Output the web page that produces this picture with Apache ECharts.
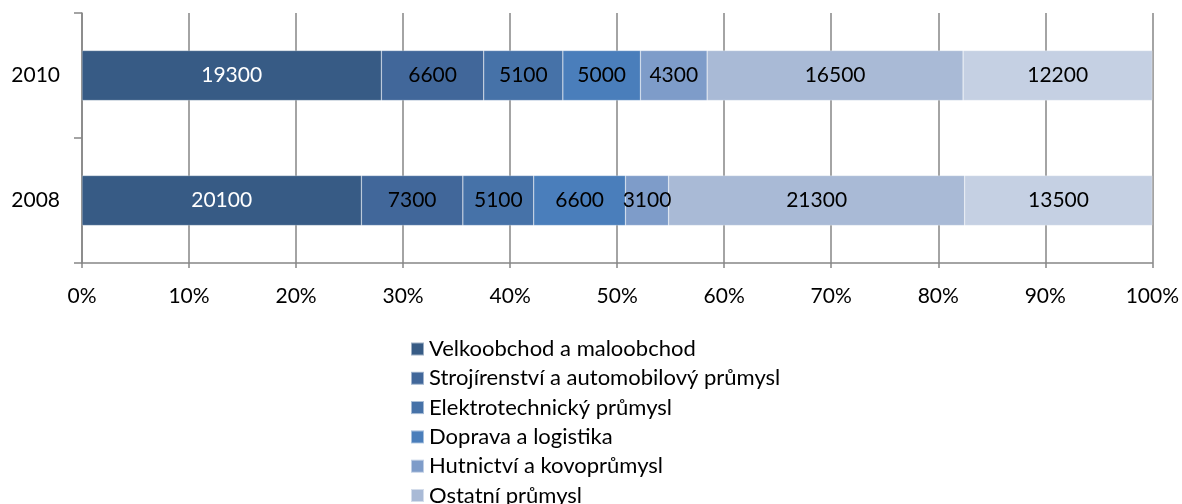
<!DOCTYPE html>
<html>
<head>
<meta charset="utf-8">
<script src="https://cdn.jsdelivr.net/npm/echarts@6/dist/echarts.min.js"></script>
<style>
  html, body { margin: 0; padding: 0; background: #fff; }
  #chart { width: 1182px; height: 504px; }
</style>
</head>
<body>
<div id="chart"></div>
<script>
// data
var years = ['2008', '2010'];
var seriesNames = [
  'Velkoobchod a maloobchod',
  'Strojírenství a automobilový průmysl',
  'Elektrotechnický průmysl',
  'Doprava a logistika',
  'Hutnictví a kovoprůmysl',
  'Ostatní průmysl',
  'Ostatní'
];
var values = [
  [20100, 19300],
  [7300, 6600],
  [5100, 5100],
  [6600, 5000],
  [3100, 4300],
  [21300, 16500],
  [13500, 12200]
];
var colors = ['#375B85', '#41679A', '#4672A8', '#4A7EBB', '#7E9CC9', '#A9BAD6', '#C5D0E3'];
var xTicks = [0, 10, 20, 30, 40, 50, 60, 70, 80, 90, 100];

var totals = years.map(function (y, j) {
  var s = 0;
  values.forEach(function (v) { s += v[j]; });
  return s;
});

var font = 'Lato, "Open Sans", sans-serif';

var series_values = [];
seriesNames.forEach(function (name, i) {
  series_values.push({
    name: name,
    type: 'bar',
    stack: 'total',
    barWidth: '40%',
    itemStyle: { color: colors[i], borderColor: 'rgba(255,255,255,0.5)', borderWidth: 0.5 },
    label: {
      show: true,
      position: 'inside',
      fontFamily: font,
      fontSize: 21,
      color: i === 0 ? '#fff' : '#000',
      formatter: function (p) { return values[i][p.dataIndex]; }
    },
    data: values[i].map(function (v, j) { return v / totals[j] * 100; })
  });
});

var chart = echarts.init(document.getElementById('chart'));
chart.setOption({
  animation: false,
  textStyle: { fontFamily: font },
  grid: { left: 82, right: 29, top: 13, bottom: 241, containLabel: false },
  legend: {
    orient: 'vertical',
    left: 410,
    top: 338,
    padding: 0,
    height: 600,
    itemWidth: 13,
    itemHeight: 13,
    itemGap: 7.3,
    icon: 'rect',
    textStyle: { fontFamily: font, fontSize: 22, lineHeight: 22, color: '#000' },
    data: seriesNames
  },
  xAxis: {
    type: 'value',
    min: xTicks[0],
    max: xTicks[xTicks.length - 1],
    interval: 10,
    axisLine: { show: true, lineStyle: { color: '#868686', width: 1.5 } },
    axisTick: { show: true, length: 5, lineStyle: { color: '#868686', width: 1.5 } },
    axisLabel: { color: '#000', fontSize: 21, fontFamily: font, margin: 23, formatter: '{value}%' },
    splitLine: { show: true, lineStyle: { color: '#868686', width: 1.5 } }
  },
  yAxis: {
    type: 'category',
    data: years,
    axisLine: { show: true, lineStyle: { color: '#868686', width: 1.5 } },
    axisTick: { show: true, length: 8, lineStyle: { color: '#868686', width: 1.5 } },
    axisLabel: { color: '#000', fontSize: 21, fontFamily: font, margin: 22 }
  },
  series: series_values
});
</script>
</body>
</html>
